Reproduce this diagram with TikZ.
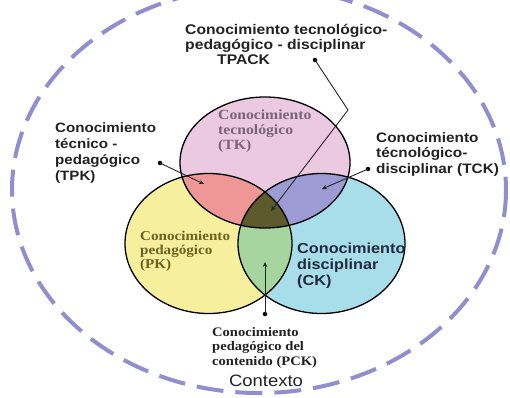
\documentclass[tikz,border=0pt]{standalone}
\usepackage{fontspec}
\setmainfont{Liberation Serif}[FakeStretch=1.12]
\newfontfamily\labsans{Liberation Sans}[FakeStretch=1.12]
\usetikzlibrary{shapes.geometric,arrows.meta}
\definecolor{pinkC}{HTML}{EBC9E0}
\definecolor{yellowC}{HTML}{F6F09E}
\definecolor{cyanC}{HTML}{A8DDEA}
\definecolor{redC}{HTML}{EF9696}
\definecolor{purpC}{HTML}{9C9BD3}
\definecolor{greenC}{HTML}{A6D5A0}
\definecolor{darkC}{HTML}{5D5A2E}
\definecolor{dashC}{HTML}{8F8FD0}
\definecolor{tkText}{HTML}{7A6477}
\definecolor{pkText}{HTML}{6E6020}
\definecolor{ckText}{HTML}{1F2B3D}
\definecolor{labText}{HTML}{222222}
\tikzset{
  ring/.style={draw=black, line width=1.3pt, ellipse, inner sep=0pt},
  lab/.style={anchor=north west, inner sep=0pt, align=left, text=labText,
    font=\labsans\bfseries\fontsize{13.7}{15.6}\selectfont},
  serifl/.style={anchor=north west, inner sep=0pt, align=left,
    font=\bfseries\fontsize{13.5}{14.5}\selectfont},
  dotn/.style={circle, fill=black, inner sep=0pt, minimum size=4.5pt},
  conn/.style={draw=black!85, line width=0.9pt, -{Stealth[length=5pt,width=4.5pt]}},
}
\begin{document}
\begin{tikzpicture}[x=1pt,y=-1pt]
\useasboundingbox (0,0) rectangle (510,397);
\clip (0,0) rectangle (510,397);
\fill[white] (0,0) rectangle (510,397);
% context
\draw[dashC, line width=4pt, dash pattern=on 27pt off 12pt] (259,190) ellipse [x radius=247, y radius=203];
% fills
\fill[pinkC] (265,162.5) ellipse [x radius=85, y radius=65.5];
\fill[yellowC] (208.5,243.5) ellipse [x radius=83.5, y radius=70];
\fill[cyanC] (321.5,243.5) ellipse [x radius=83.5, y radius=70];
\begin{scope}
  \clip (265,162.5) ellipse [x radius=85, y radius=65.5];
  \fill[redC] (208.5,243.5) ellipse [x radius=83.5, y radius=70];
  \fill[purpC] (321.5,243.5) ellipse [x radius=83.5, y radius=70];
\end{scope}
\begin{scope}
  \clip (208.5,243.5) ellipse [x radius=83.5, y radius=70];
  \fill[greenC] (321.5,243.5) ellipse [x radius=83.5, y radius=70];
  \clip (321.5,243.5) ellipse [x radius=83.5, y radius=70];
  \fill[darkC] (265,162.5) ellipse [x radius=85, y radius=65.5];
\end{scope}
% outlines
\node[ring, minimum width=170pt, minimum height=131pt] (tk) at (265,162.5) {};
\node[ring, minimum width=167pt, minimum height=140pt] (pk) at (208.5,243.5) {};
\node[ring, minimum width=167pt, minimum height=140pt] (ck) at (321.5,243.5) {};
% circle labels
\node[serifl, text=tkText, font=\bfseries\fontsize{14}{15}\selectfont] (tktext) at (218,110) {Conocimiento\\tecnológico\\(TK)};
\node[serifl, text=pkText, font=\bfseries\fontsize{13.5}{14}\selectfont] (pktext) at (140,230.5) {Conocimiento\\pedagógico\\(PK)};
\node[lab, text=ckText, font=\labsans\bfseries\fontsize{14.5}{16}\selectfont] (cktext) at (297,243) {Conocimiento\\disciplinar\\(CK)};
% outer labels
\node[lab, font=\labsans\bfseries\fontsize{14}{15}\selectfont] (tpack) at (185,24) {Conocimiento tecnológico-\\pedagógico - disciplinar\\\hspace*{32pt}TPACK};
\node[lab, font=\labsans\bfseries\fontsize{13.5}{15.7}\selectfont] (tpk) at (55,123) {Conocimiento\\técnico -\\pedagógico\\(TPK)};
\node[lab] (tck) at (376,132) {Conocimiento\\técnológico-\\disciplinar (TCK)};
\node[serifl, text=labText, font=\bfseries\fontsize{13}{14.5}\selectfont] (pck) at (212,327) {Conocimiento\\pedagógico del\\contenido (PCK)};
\node[text=labText, inner sep=0pt, font=\labsans\fontsize{16.5}{18}\selectfont] (ctx) at (266,381) {Contexto};
% connectors
\node[dotn] (tpackdot) at (315,60) {};
\coordinate (tpackbend) at (348,110);
\coordinate (tpacktip) at (271,211);
\draw[conn] (tpackdot.center) -- (tpackbend) -- (tpacktip);
\node[dotn] (tpkdot) at (160,163) {};
\coordinate (tpktip) at (204,184);
\draw[conn] (tpkdot.center) -- (tpktip);
\node[dotn] (tckdot) at (368,169) {};
\coordinate (tcktip) at (322,189);
\draw[conn] (tckdot.center) -- (tcktip);
\node[dotn] (pckdot) at (265,314) {};
\coordinate (pcktip) at (265,262);
\draw[conn] (pckdot.center) -- (pcktip);
\end{tikzpicture}
\end{document}
